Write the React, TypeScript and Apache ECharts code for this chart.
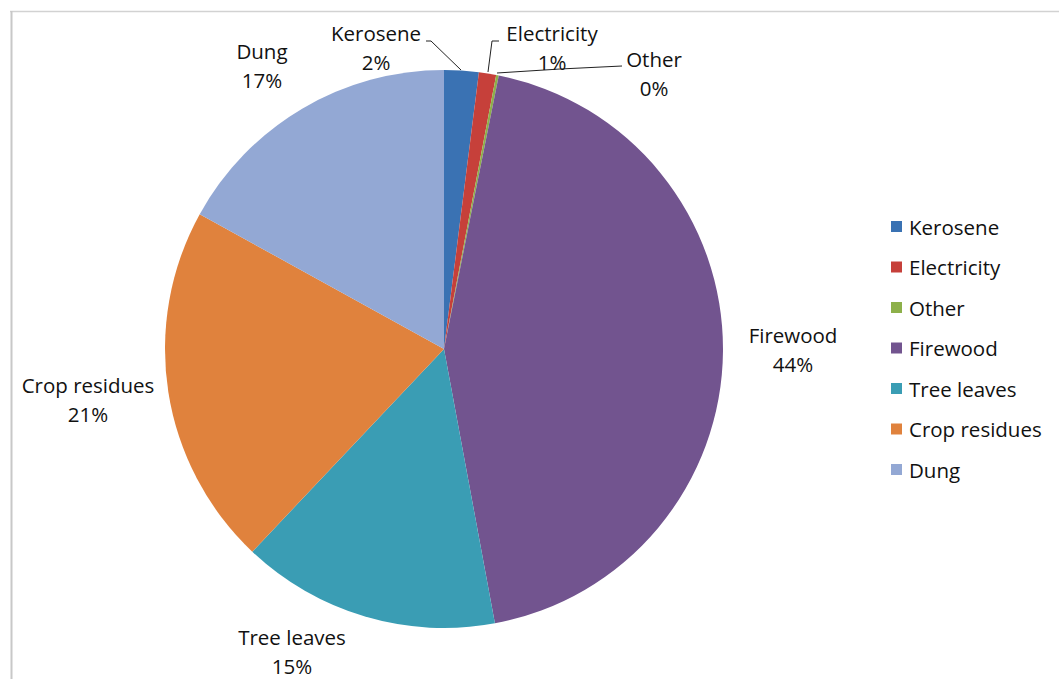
import React, { useEffect, useRef } from "react";
import * as echarts from "echarts";

const categories = ["Kerosene", "Electricity", "Other", "Firewood", "Tree leaves", "Crop residues", "Dung"];
const values = [2, 1, 0.15, 44, 15, 21, 17];
const colors = ["#3a72b3", "#c6403a", "#8db04a", "#72548f", "#3a9db4", "#e0823d", "#93a8d4"];

// label anchor positions (center of label block) and leader lines
const labelAnchors: Record<string, number[]> = {
  Kerosene: [376, 47],
  Electricity: [552, 47],
  Other: [654, 73],
  Firewood: [793, 349],
  "Tree leaves": [292, 651],
  "Crop residues": [88, 399],
  Dung: [262, 65],
};
const leaderLines: Record<string, number[][]> = {
  Kerosene: [[426, 41], [431, 41], [461, 70]],
  Electricity: [[499, 41], [492, 41], [488, 72]],
  Other: [[622, 66], [560, 69], [497, 73]],
};

const FONT = "Open Sans";

export default function App() {
  const ref = useRef<HTMLDivElement>(null);
  useEffect(() => {
    if (!ref.current) return;
    const chart = echarts.init(ref.current, null, { renderer: "svg" });
    const data = categories.map((name, i) => ({
      name,
      value: values[i],
      itemStyle: { color: colors[i] },
      labelLine: { show: !!leaderLines[name] },
    }));
    chart.setOption({
      animation: false,
      backgroundColor: "#ffffff",
      textStyle: { fontFamily: FONT },
      legend: {
        orient: "vertical",
        left: 886,
        top: 211,
        icon: "rect",
        itemWidth: 11,
        itemHeight: 11,
        itemGap: 19.5,
        data: categories,
        textStyle: { fontSize: 20.5, lineHeight: 21, color: "#111", fontFamily: FONT, padding: [0, 0, 0, 2] },
      },
      graphic: [
        { type: "line", shape: { x1: 10, y1: 11.5, x2: 1059, y2: 11.5 }, style: { stroke: "#d2d2d2", lineWidth: 1.5 } },
        { type: "line", shape: { x1: 11.5, y1: 11, x2: 11.5, y2: 679 }, style: { stroke: "#c8c8c8", lineWidth: 2 } },
      ],
      series: [
        {
          type: "pie",
          center: [444, 349],
          radius: 279,
          startAngle: 90,
          clockwise: true,
          data,
          label: {
            show: true,
            position: "outside",
            formatter: (p: any) => `${p.name}\n${Math.round(p.value)}%`,
            fontSize: 20.5,
            lineHeight: 29,
            color: "#111",
            fontFamily: FONT,
            align: "center",
            overflow: "none",
          },
          labelLine: { show: true, lineStyle: { color: "#222", width: 1 }, smooth: false },
          labelLayout: (params: any) => {
            const name = categories[params.dataIndex];
            const a = labelAnchors[name];
            const res: any = {
              x: a[0],
              y: a[1],
              align: "center",
              verticalAlign: "middle",
            };
            if (leaderLines[name]) res.labelLinePoints = leaderLines[name];
            return res;
          },
          emphasis: { disabled: true },
        },
      ],
    });
    return () => chart.dispose();
  }, []);
  return <div ref={ref} style={{ position: "fixed", left: 0, top: 0, width: 1059, height: 679 }} />;
}
